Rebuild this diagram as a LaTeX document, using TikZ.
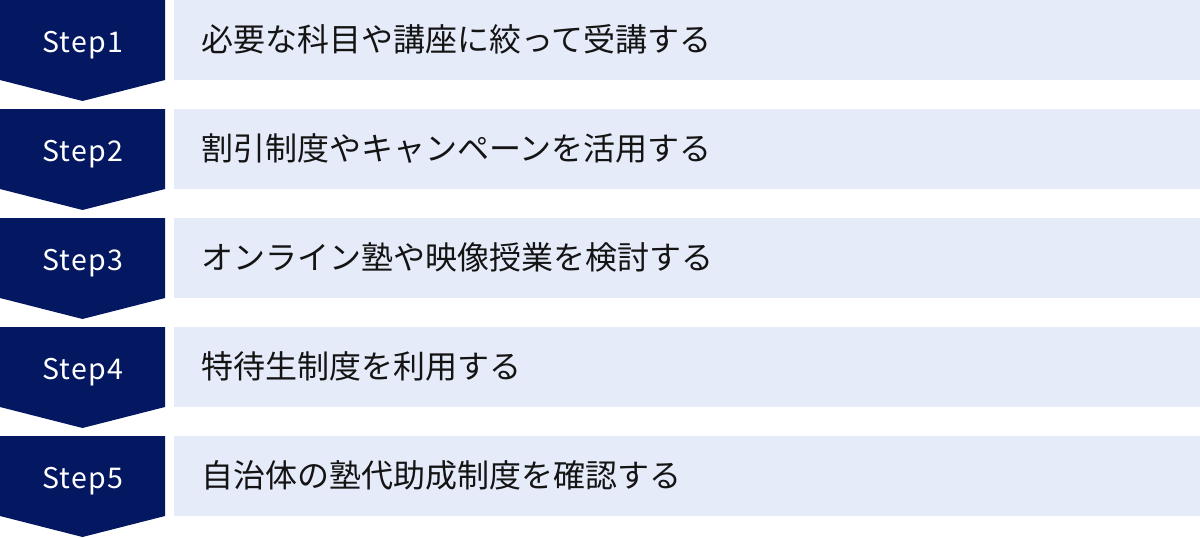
\documentclass[tikz,border=0pt]{standalone}
\usepackage{fontspec}
\setmainfont{Noto Sans CJK JP}
\newfontfamily\stepfont[LetterSpace=5]{Noto Sans CJK JP}
\definecolor{stepnavy}{HTML}{041862}
\definecolor{boxblue}{HTML}{E5EBF9}

\begin{document}
\begin{tikzpicture}[x=1pt,y=1pt,
		step badge/.style={fill=stepnavy,draw=none},
		step label/.style={anchor=base,inner sep=0pt,text=white,
			font=\stepfont\fontsize{28.5}{29}\selectfont},
		item box/.style={fill=boxblue,draw=none,anchor=north west,inner sep=0pt,
			minimum width=1026pt,minimum height=80pt},
		item text/.style={anchor=base west,inner sep=0pt,text=black!92,
			font=\fontsize{32}{32}\selectfont}]

		\useasboundingbox (0,0) rectangle (1200,-538);

		\foreach \i/\txt in {1/必要な科目や講座に絞って受講する,
				2/割引制度やキャンペーンを活用する,
				3/オンライン塾や映像授業を検討する,
				4/特待生制度を利用する,
				5/自治体の塾代助成制度を確認する} {
			\pgfmathsetmacro\rowtop{-(\i-1)*109}
			\fill[step badge] (0,\rowtop) -- ++(165,0) -- ++(0,-80)
				-- ++(-82.5,-21) -- ++(-82.5,21) -- cycle;
			\node[step label] (s\i) at (83,\rowtop-52) {Step\i};
			\node[item box] (b\i) at (174,\rowtop) {};
			\node[item text] (t\i) at (201,\rowtop-51) {\txt};
		}
	\end{tikzpicture}
\end{document}
